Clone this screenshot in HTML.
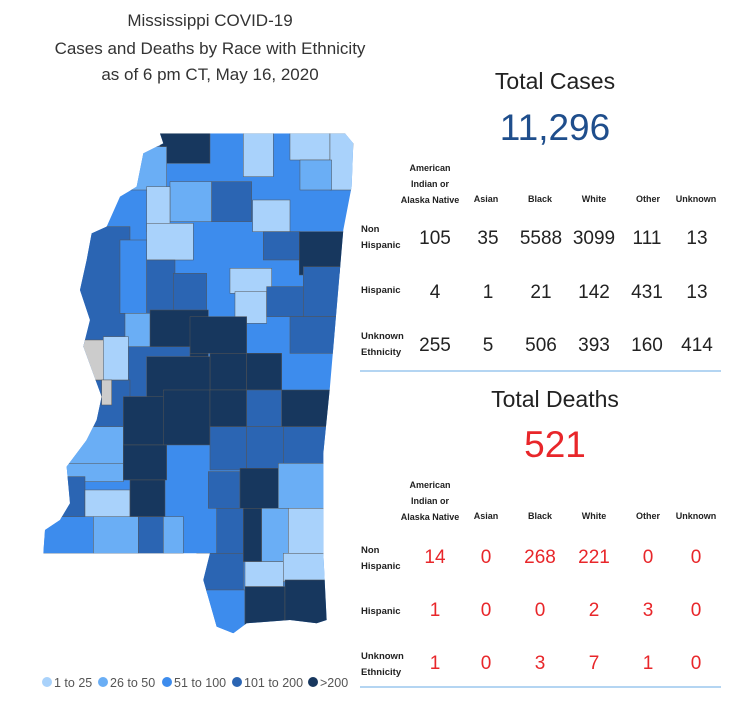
<!DOCTYPE html>
<html><head><meta charset="utf-8"><style>
body{margin:0;background:#fff;width:744px;height:711px;overflow:hidden;font-family:"Liberation Sans",sans-serif;}
svg{position:absolute;left:0;top:0}
</style></head><body>
<svg width="744" height="711" viewBox="0 0 744 711" xmlns="http://www.w3.org/2000/svg">
<defs><clipPath id="st"><polygon points="390,40 945,40 970,70 965,200 940,330 900,800 880,1000 880,1300 890,1500 860,1510 780,1500 650,1510 610,1540 560,1520 520,1380 540,1300 40,1300 45,1230 90,1200 120,1150 110,1040 170,960 200,900 215,830 160,680 180,600 150,510 170,420 185,340 230,320 270,230 320,200 340,100 400,70"/></clipPath></defs>
<g font-size="17" fill="#333" text-anchor="middle">
<text x="210" y="26">Mississippi COVID-19</text>
<text x="210" y="54">Cases and Deaths by Race with Ethnicity</text>
<text x="210" y="80">as of 6 pm CT, May 16, 2020</text>
</g>
<g transform="translate(30,120) scale(0.3333)" clip-path="url(#st)" stroke="#555" stroke-width="1.5">
<rect x="0" y="0" width="1000" height="1600" fill="#3d8ced"/>
<rect x="390" y="40" width="150" height="90" fill="#17375e"/>
<rect x="640" y="40" width="90" height="130" fill="#a9d2fb"/>
<rect x="780" y="40" width="120" height="80" fill="#a9d2fb"/>
<rect x="900" y="40" width="70" height="170" fill="#a9d2fb"/>
<rect x="810" y="120" width="95" height="90" fill="#6aaef5"/>
<rect x="300" y="80" width="110" height="130" fill="#6aaef5"/>
<rect x="420" y="185" width="125" height="120" fill="#6aaef5"/>
<rect x="545" y="185" width="120" height="120" fill="#2b65b3"/>
<rect x="668" y="240" width="112" height="95" fill="#a9d2fb"/>
<rect x="350" y="200" width="70" height="135" fill="#a9d2fb"/>
<rect x="350" y="310" width="140" height="110" fill="#a9d2fb"/>
<rect x="700" y="335" width="110" height="85" fill="#2b65b3"/>
<rect x="808" y="335" width="140" height="130" fill="#17375e"/>
<rect x="140" y="320" width="160" height="360" fill="#2b65b3"/>
<rect x="270" y="360" width="80" height="220" fill="#3d8ced"/>
<rect x="350" y="420" width="85" height="170" fill="#2b65b3"/>
<rect x="430" y="460" width="100" height="120" fill="#2b65b3"/>
<rect x="600" y="445" width="125" height="75" fill="#a9d2fb"/>
<rect x="615" y="515" width="95" height="95" fill="#a9d2fb"/>
<rect x="710" y="500" width="110" height="90" fill="#2b65b3"/>
<rect x="820" y="440" width="130" height="150" fill="#2b65b3"/>
<rect x="285" y="580" width="85" height="120" fill="#6aaef5"/>
<rect x="360" y="570" width="175" height="140" fill="#17375e"/>
<rect x="480" y="590" width="170" height="110" fill="#17375e"/>
<rect x="780" y="590" width="140" height="110" fill="#2b65b3"/>
<rect x="275" y="680" width="205" height="150" fill="#2b65b3"/>
<rect x="140" y="780" width="160" height="180" fill="#2b65b3"/>
<rect x="100" y="660" width="130" height="120" fill="#cccccc"/>
<rect x="220" y="650" width="75" height="130" fill="#a9d2fb"/>
<rect x="215" y="780" width="30" height="75" fill="#cccccc"/>
<rect x="540" y="700" width="110" height="110" fill="#17375e"/>
<rect x="650" y="700" width="105" height="110" fill="#17375e"/>
<rect x="350" y="710" width="190" height="150" fill="#17375e"/>
<rect x="280" y="830" width="130" height="145" fill="#17375e"/>
<rect x="400" y="810" width="140" height="165" fill="#17375e"/>
<rect x="540" y="810" width="110" height="110" fill="#17375e"/>
<rect x="650" y="810" width="105" height="110" fill="#2b65b3"/>
<rect x="755" y="810" width="150" height="110" fill="#17375e"/>
<rect x="100" y="920" width="180" height="130" fill="#6aaef5"/>
<rect x="100" y="1030" width="180" height="55" fill="#6aaef5"/>
<rect x="540" y="920" width="110" height="130" fill="#2b65b3"/>
<rect x="650" y="920" width="110" height="130" fill="#2b65b3"/>
<rect x="760" y="920" width="140" height="110" fill="#2b65b3"/>
<rect x="280" y="975" width="130" height="105" fill="#17375e"/>
<rect x="20" y="1070" width="145" height="125" fill="#2b65b3"/>
<rect x="165" y="1110" width="135" height="85" fill="#a9d2fb"/>
<rect x="300" y="1080" width="105" height="110" fill="#17375e"/>
<rect x="535" y="1055" width="95" height="110" fill="#2b65b3"/>
<rect x="630" y="1045" width="115" height="120" fill="#17375e"/>
<rect x="745" y="1030" width="160" height="135" fill="#6aaef5"/>
<rect x="20" y="1190" width="170" height="110" fill="#3d8ced"/>
<rect x="190" y="1190" width="135" height="110" fill="#6aaef5"/>
<rect x="325" y="1190" width="75" height="110" fill="#2b65b3"/>
<rect x="400" y="1190" width="60" height="110" fill="#6aaef5"/>
<rect x="560" y="1165" width="80" height="135" fill="#2b65b3"/>
<rect x="640" y="1165" width="55" height="160" fill="#17375e"/>
<rect x="695" y="1165" width="80" height="160" fill="#6aaef5"/>
<rect x="775" y="1165" width="120" height="135" fill="#a9d2fb"/>
<rect x="500" y="1300" width="140" height="120" fill="#2b65b3"/>
<rect x="645" y="1325" width="115" height="75" fill="#a9d2fb"/>
<rect x="760" y="1300" width="135" height="85" fill="#a9d2fb"/>
<rect x="500" y="1410" width="145" height="140" fill="#3d8ced"/>
<rect x="645" y="1400" width="120" height="120" fill="#17375e"/>
<rect x="765" y="1380" width="135" height="130" fill="#17375e"/>
</g>
<g font-size="12.5" fill="#555">
<circle cx="47" cy="682" r="5" fill="#a9d2fb"/><text x="54" y="687">1 to 25</text>
<circle cx="103" cy="682" r="5" fill="#6aaef5"/><text x="110" y="687">26 to 50</text>
<circle cx="167" cy="682" r="5" fill="#3d8ced"/><text x="174" y="687">51 to 100</text>
<circle cx="237" cy="682" r="5" fill="#2b65b3"/><text x="244" y="687">101 to 200</text>
<circle cx="313" cy="682" r="5" fill="#17375e"/><text x="320" y="687">&gt;200</text>
</g>
<g text-anchor="middle">
<text x="555" y="89" font-size="23" fill="#222">Total Cases</text>
<text x="555" y="140" font-size="37" fill="#1f4e8c">11,296</text>
<text x="555" y="407" font-size="23" fill="#222">Total Deaths</text>
<text x="555" y="457" font-size="37" fill="#e8262a">521</text>
</g>
<g font-size="9" font-weight="bold" fill="#222" text-anchor="middle">
<text x="430" y="171">American</text><text x="430" y="187">Indian or</text><text x="430" y="203">Alaska Native</text>
<text x="486" y="202">Asian</text><text x="540" y="202">Black</text><text x="594" y="202">White</text><text x="648" y="202">Other</text><text x="696" y="202">Unknown</text>
<text x="430" y="488">American</text><text x="430" y="504">Indian or</text><text x="430" y="520">Alaska Native</text>
<text x="486" y="519">Asian</text><text x="540" y="519">Black</text><text x="594" y="519">White</text><text x="648" y="519">Other</text><text x="696" y="519">Unknown</text>
</g>
<g font-size="9.5" font-weight="bold" fill="#222">
<text x="361" y="232">Non</text><text x="361" y="248">Hispanic</text>
<text x="361" y="293">Hispanic</text>
<text x="361" y="339">Unknown</text><text x="361" y="355">Ethnicity</text>
<text x="361" y="553">Non</text><text x="361" y="569">Hispanic</text>
<text x="361" y="614">Hispanic</text>
<text x="361" y="659">Unknown</text><text x="361" y="675">Ethnicity</text>
</g>
<g font-size="19" fill="#222" text-anchor="middle">
<text x="435" y="244">105</text><text x="488" y="244">35</text><text x="541" y="244">5588</text><text x="594" y="244">3099</text><text x="647" y="244">111</text><text x="697" y="244">13</text>
<text x="435" y="298">4</text><text x="488" y="298">1</text><text x="541" y="298">21</text><text x="594" y="298">142</text><text x="647" y="298">431</text><text x="697" y="298">13</text>
<text x="435" y="351">255</text><text x="488" y="351">5</text><text x="541" y="351">506</text><text x="594" y="351">393</text><text x="647" y="351">160</text><text x="697" y="351">414</text>
</g>
<g font-size="19" fill="#e8262a" text-anchor="middle">
<text x="435" y="563">14</text><text x="486" y="563">0</text><text x="540" y="563">268</text><text x="594" y="563">221</text><text x="648" y="563">0</text><text x="696" y="563">0</text>
<text x="435" y="616">1</text><text x="486" y="616">0</text><text x="540" y="616">0</text><text x="594" y="616">2</text><text x="648" y="616">3</text><text x="696" y="616">0</text>
<text x="435" y="669">1</text><text x="486" y="669">0</text><text x="540" y="669">3</text><text x="594" y="669">7</text><text x="648" y="669">1</text><text x="696" y="669">0</text>
</g>
<line x1="360" y1="371" x2="721" y2="371" stroke="#9cc7ee" stroke-width="1.5"/>
<line x1="360" y1="687" x2="721" y2="687" stroke="#9cc7ee" stroke-width="1.5"/>
</svg>
</body></html>
